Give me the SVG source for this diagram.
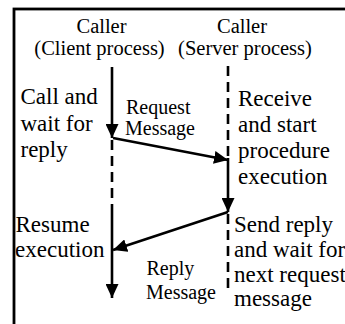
<svg xmlns="http://www.w3.org/2000/svg" width="345" height="324" viewBox="0 0 345 324" font-family="'Liberation Serif', 'Times New Roman', Times, serif">
<style>
.h{font-size:20.5px;text-anchor:middle}
.b{font-size:23px}
.m{font-size:20px}
.ln{stroke:#000;stroke-width:2.6;fill:none}
.d{stroke-dasharray:10 6}
</style>
<defs>
<marker id="ah" markerUnits="userSpaceOnUse" markerWidth="15" markerHeight="13" refX="14" refY="6.5" orient="auto">
<path d="M0,0 L14,6.5 L0,13 z" fill="#000"/>
</marker>
</defs>
<rect x="14" y="9" width="340" height="330" fill="none" stroke="#000" stroke-width="2.8"/>
<g id="client" font-family="Liberation Serif">
<text class="h" x="101.5" y="32.5">Caller</text>
<text class="h" x="99.5" y="55">(Client process)</text>
<text class="b" x="20.5" y="104">Call and</text>
<text class="b" x="20.5" y="131">wait for</text>
<text class="b" x="20.5" y="157">reply</text>
<text class="b" x="15.5" y="232">Resume</text>
<text class="b" x="15" y="257">execution</text>
</g>
<g id="server" font-family="Liberation Serif">
<text class="h" x="242" y="32.5">Caller</text>
<text class="h" x="245" y="55">(Server process)</text>
<text class="b" x="238" y="106">Receive</text>
<text class="b" x="238" y="132">and start</text>
<text class="b" x="238" y="158">procedure</text>
<text class="b" x="238" y="184">execution</text>
<text class="b" x="234" y="232">Send reply</text>
<text class="b" x="234" y="257">and wait for</text>
<text class="b" x="234" y="282">next request</text>
<text class="b" x="234" y="306">message</text>
</g>
<g id="request-label" font-family="Liberation Serif">
<text class="m" x="126" y="113.5">Request</text>
<text class="m" x="125" y="135">Message</text>
</g>
<g id="reply-label" font-family="Liberation Serif">
<text class="m" x="146.5" y="275">Reply</text>
<text class="m" x="146" y="299">Message</text>
</g>
<g id="connectors">
<line class="ln" x1="112" y1="67" x2="112" y2="138" marker-end="url(#ah)"/>
<line class="ln d" x1="112" y1="140" x2="112" y2="212"/>
<line class="ln" x1="112" y1="212" x2="112" y2="298" marker-end="url(#ah)"/>
<line class="ln d" x1="228" y1="66" x2="228" y2="158"/>
<line class="ln" x1="228" y1="158" x2="228" y2="212" marker-end="url(#ah)"/>
<line class="ln d" x1="228" y1="214" x2="228" y2="294"/>
<line class="ln" x1="113" y1="138" x2="228" y2="160" marker-end="url(#ah)"/>
<line class="ln" x1="228" y1="212" x2="113" y2="250" marker-end="url(#ah)"/>
</g>
</svg>
